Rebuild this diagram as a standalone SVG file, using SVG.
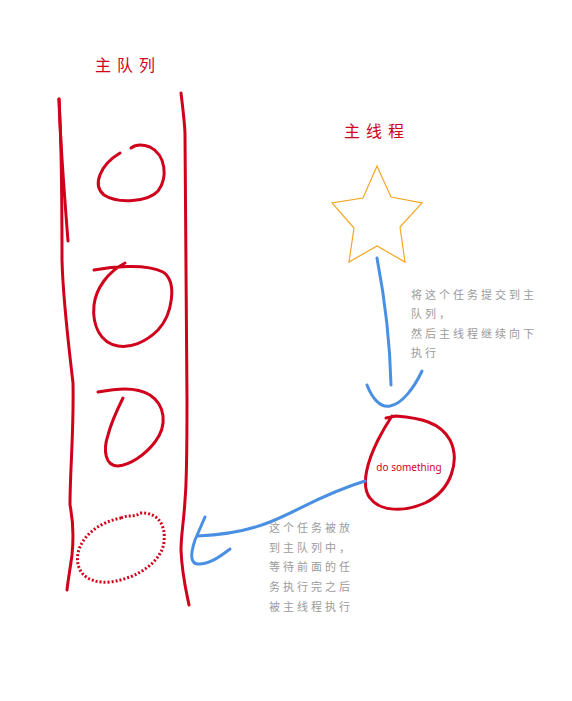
<svg xmlns="http://www.w3.org/2000/svg" width="572" height="701" viewBox="0 0 572 701">
<style>
.red{fill:none;stroke:#d0021b;stroke-width:3;stroke-linecap:round;stroke-linejoin:round}
.dot{fill:none;stroke:#d0021b;stroke-width:3;stroke-dasharray:2 2}
.blue{fill:none;stroke:#4a90e2;stroke-width:3;stroke-linecap:round;stroke-linejoin:round}
.title{font-family:"Noto Sans CJK SC","Noto Sans",sans-serif;font-size:16px;fill:#d0021b;letter-spacing:6px}
.note{font-family:"Noto Sans CJK SC","Noto Sans",sans-serif;font-size:11px;fill:#9b9b9b;letter-spacing:3px}
</style>
<rect width="572" height="701" fill="#fff"/>
<g id="queue">
<text class="title" x="95" y="71">主队列</text>
<path class="red" d="M59,99 C60,140 64,190 68,241"/>
<path class="red" d="M59,99 C62,150 62,220 62,260 C63,300 68,340 73,383 C74,430 70,470 70,505 C73,520 74,535 72,555 C70,570 68,580 67,590"/>
<path class="red" d="M181,93 C183,110 185,125 185,135 C186,200 187,300 187,400 C187,450 186,490 185,500 C184,520 181,535 181,550 C182,575 186,590 189,605"/>
</g>
<g id="item1"><path class="red" d="M120,153 C100,165 92,185 104,195 C118,204 148,202 158,191 C168,178 166,155 150,147 C142,144 135,145 131,148"/></g>
<g id="item2"><path class="red" d="M94,270 C110,267 145,263 163,272 C178,282 172,315 158,330 C145,343 130,348 118,346 C100,343 92,325 94,305 C96,288 108,272 125,263"/></g>
<g id="item3"><path class="red" d="M98,392 C115,389 135,386 150,395 C165,405 168,425 155,442 C145,455 130,465 118,466 C105,466 103,450 108,435 C112,420 118,408 123,398"/></g>
<g id="item4"><path class="dot" d="M121,518 C128,514 134,518 140,513 C158,512 166,525 164,542 C162,560 140,578 110,582 C85,584 75,570 78,553 C82,535 100,522 121,518"/></g>
<g id="mainThread">
<text class="title" x="344" y="137">主线程</text>
<polygon points="377,166 391,197 422,203 400,227 405,262 377,246 349,262 354,228 332,203 363,198" fill="none" stroke="#f5a623" stroke-width="1.2" stroke-linejoin="miter"/>
</g>
<g id="task">
<path class="red" d="M386,418 L396,416 C420,418 440,422 450,440 C460,460 452,490 425,503 C405,512 380,512 370,498 C360,485 368,460 378,440 C383,430 388,422 392,416"/>
<text x="409" y="471" text-anchor="middle" font-family="'Noto Sans','Liberation Sans',sans-serif" font-size="10" fill="#d0021b">do something</text>
</g>
<g id="connectors">
<path class="blue" d="M377,258 C385,300 390,340 391,385"/>
<path class="blue" d="M367,385 C372,398 380,408 390,406 C402,404 414,388 422,371"/>
<path class="blue" d="M365,481 C320,495 300,510 270,522 C245,532 222,535 198,536"/>
<path class="blue" d="M205,517 L195,540 C190,555 190,565 200,564 C212,563 222,555 230,549"/>
</g>
<g id="notes">
<text class="note" x="411" y="299">将这个任务提交到主</text>
<text class="note" x="411" y="318">队列，</text>
<text class="note" x="411" y="338">然后主线程继续向下</text>
<text class="note" x="411" y="357">执行</text>
<text class="note" x="269" y="532">这个任务被放</text>
<text class="note" x="269" y="552">到主队列中，</text>
<text class="note" x="269" y="571">等待前面的任</text>
<text class="note" x="269" y="591">务执行完之后</text>
<text class="note" x="269" y="611">被主线程执行</text>
</g>
</svg>
